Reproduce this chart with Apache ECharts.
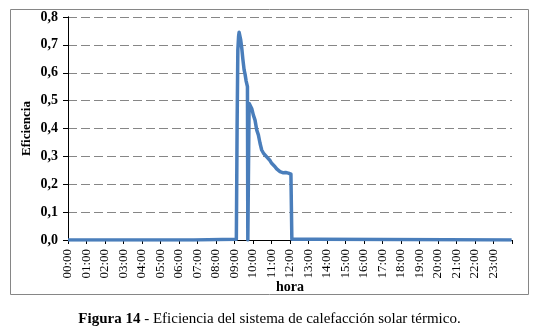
<!DOCTYPE html>
<html>
<head>
<meta charset="utf-8">
<script src="https://cdn.jsdelivr.net/npm/echarts@6/dist/echarts.min.js"></script>
<style>html,body{margin:0;padding:0;background:#fff;}#c{width:539px;height:330px;}</style>
</head>
<body>
<div id="c"></div>
<script>
// hour of day (decimal) and efficiency values
var times = [0, 6.80, 6.82, 9.10, 9.14, 9.18, 9.22, 9.25, 9.28, 9.33, 9.39, 9.45, 9.52, 9.57, 9.63, 9.70, 9.72, 9.76, 9.79, 9.85,
  9.93, 10.02, 10.11, 10.20, 10.29, 10.38, 10.47, 10.56, 10.65, 10.74, 10.83, 10.92, 11.01, 11.10, 11.19, 11.28, 11.37, 11.46,
  11.55, 11.64, 11.77, 11.91, 12.00, 12.05, 12.10, 12.12, 13.35, 13.37, 23.98];
var eficiencia = [0, 0, 0.003, 0.003, 0.40, 0.68, 0.73, 0.745, 0.745, 0.72, 0.69, 0.65, 0.61, 0.595, 0.57, 0.55, 0, 0, 0.49, 0.485,
  0.472, 0.448, 0.43, 0.395, 0.377, 0.347, 0.323, 0.312, 0.305, 0.298, 0.293, 0.285, 0.275, 0.27, 0.263, 0.255, 0.249, 0.245,
  0.243, 0.241, 0.242, 0.240, 0.238, 0.236, 0.003, 0.003, 0.003, 0, 0];
var hourLabels = ['00:00','01:00','02:00','03:00','04:00','05:00','06:00','07:00','08:00','09:00','10:00','11:00',
  '12:00','13:00','14:00','15:00','16:00','17:00','18:00','19:00','20:00','21:00','22:00','23:00'];
var xTitle = 'hora';
var yTitle = 'Eficiencia';
var captionBold = 'Figura 14';
var captionRest = ' - Eficiencia del sistema de calefacción solar térmico.';

var serif = '"Liberation Serif", "DejaVu Serif", serif';
var chart = echarts.init(document.getElementById('c'), null, {renderer: 'canvas'});
var pts = times.map(function (t, i) { return [t, eficiencia[i]]; });

chart.setOption({
  animation: false,
  backgroundColor: '#fff',
  title: {
    text: '{b|' + captionBold + '}{r|' + captionRest + '}',
    left: 'center', top: 307,
    textStyle: {
      fontWeight: 'normal', fontFamily: serif, fontSize: 15, color: '#000',
      rich: {
        b: {fontFamily: serif, fontSize: 15, fontWeight: 'bold', color: '#000'},
        r: {fontFamily: serif, fontSize: 15, fontWeight: 'normal', color: '#000'}
      }
    }
  },
  graphic: [{
    type: 'rect', silent: true,
    shape: {x: 10.5, y: 9.5, width: 518, height: 285},
    style: {fill: 'none', stroke: '#868686', lineWidth: 1}
  }],
  grid: {left: 68, right: 27, top: 17, bottom: 90},
  xAxis: [{
    type: 'value', min: 0, max: 24, interval: 1, position: 'bottom',
    axisLine: {show: true, lineStyle: {color: '#000', width: 1}},
    axisTick: {show: true, inside: false, length: 4, lineStyle: {color: '#000'}},
    axisLabel: {
      rotate: 90, margin: 9, fontFamily: serif, fontSize: 13, color: '#000',
      formatter: function (v) { return v < 24 ? hourLabels[Math.round(v)] : ''; }
    },
    splitLine: {show: false},
    name: xTitle, nameLocation: 'middle', nameGap: 40, nameMoveOverlap: false,
    nameTextStyle: {fontFamily: serif, fontSize: 14, fontWeight: 'bold', color: '#000'}
  }, {
    type: 'value', min: 0, max: 24, position: 'top',
    axisLine: {show: true, lineStyle: {color: '#000', width: 1}},
    axisTick: {show: false}, axisLabel: {show: false}, splitLine: {show: false}
  }],
  yAxis: [{
    type: 'value', min: 0, max: 0.8, interval: 0.1,
    axisLine: {show: true, lineStyle: {color: '#000', width: 1}},
    axisTick: {show: true, inside: false, length: 5, lineStyle: {color: '#000'}},
    axisLabel: {
      margin: 10, fontFamily: serif, fontSize: 14, fontWeight: 'bold', color: '#000',
      formatter: function (v) { return v.toFixed(1).replace('.', ','); }
    },
    splitLine: {show: true, lineStyle: {color: '#868686', width: 1, type: [9, 4]}},
    name: yTitle, nameLocation: 'middle', nameGap: 35, nameRotate: 90, nameMoveOverlap: false,
    nameTextStyle: {fontFamily: serif, fontSize: 13, fontWeight: 'bold', color: '#000'}
  }, {
    type: 'value', min: 0, max: 0.8, position: 'right',
    axisLine: {show: true, lineStyle: {color: '#000', width: 1}},
    axisTick: {show: false}, axisLabel: {show: false}, splitLine: {show: false}
  }],
  series: [{
    type: 'line', data: pts, showSymbol: false, symbol: 'none',
    lineStyle: {color: '#4a7ebb', width: 3.5, join: 'round'},
    itemStyle: {color: '#4a7ebb'}
  }]
});
</script>
</body>
</html>
